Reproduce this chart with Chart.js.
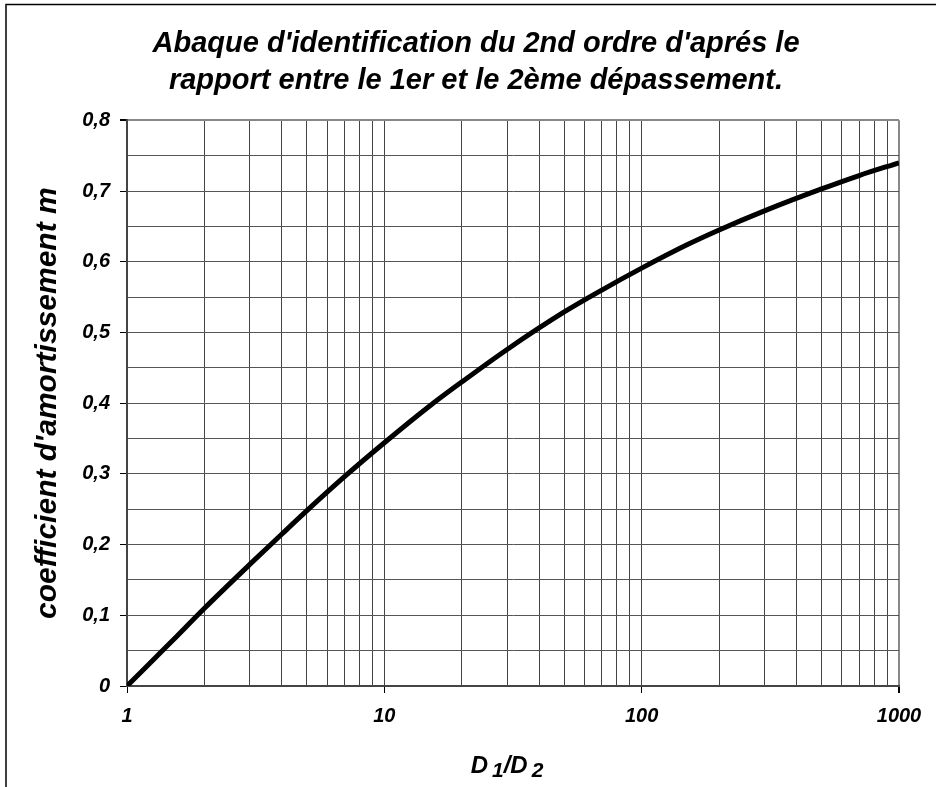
<!DOCTYPE html>
<html>
<head>
<meta charset="utf-8">
<script src="https://cdn.jsdelivr.net/npm/chart.js@4"></script>
<style>
  body { margin: 0; background: #fff; }
  #wrap { width: 936px; height: 787px; position: relative; }
</style>
</head>
<body>
<div id="wrap"><canvas id="abaque"></canvas></div>
<script>
const ratioD1D2 = [1, 1.5, 2, 3, 4, 5, 7, 10, 15, 20, 30, 50, 70, 100, 150, 200, 300, 500, 700, 1000];
const amortissement = [0, 0.064, 0.11, 0.172, 0.215, 0.248, 0.296, 0.344, 0.396, 0.43, 0.476, 0.529, 0.56, 0.591, 0.624, 0.645, 0.672, 0.703, 0.722, 0.74];

// graduations de la grille et libellés
const xGraduations = [1, 2, 3, 4, 5, 6, 7, 8, 9, 10, 20, 30, 40, 50, 60, 70, 80, 90, 100, 200, 300, 400, 500, 600, 700, 800, 900, 1000];
const xLabels = [1, 10, 100, 1000];
const yGraduations = [0, 0.05, 0.1, 0.15, 0.2, 0.25, 0.3, 0.35, 0.4, 0.45, 0.5, 0.55, 0.6, 0.65, 0.7, 0.75, 0.8];
const yLabels = [0, 0.1, 0.2, 0.3, 0.4, 0.5, 0.6, 0.7, 0.8];

const titre = ["Abaque d'identification du 2nd ordre d'aprés le", "rapport entre le 1er et le 2ème dépassement."];
const titreY = "coefficient d'amortissement m";

const police = "'Liberation Sans', Arial, sans-serif";

// cadre du graphique + titre de l'axe x avec indices
const decor = {
  id: 'decor',
  beforeDraw(chart) {
    const ctx = chart.ctx;
    ctx.save();
    ctx.strokeStyle = '#000';
    ctx.lineWidth = 1.5;
    ctx.beginPath();
    ctx.moveTo(6, 787);
    ctx.lineTo(6, 4.5);
    ctx.lineTo(936, 4.5);
    ctx.stroke();
    ctx.restore();
  },
  afterDraw(chart) {
    const ctx = chart.ctx;
    const gros = 'italic bold 24px ' + police;
    const petit = 'italic bold 21px ' + police;
    const morceaux = [['D', gros, 0], ['1', petit, 4], ['/D', gros, 0], ['2', petit, 4]];
    ctx.save();
    ctx.fillStyle = '#000';
    ctx.textBaseline = 'alphabetic';
    let total = 0;
    morceaux.forEach(m => { ctx.font = m[1]; total += ctx.measureText(m[0]).width + (m[1] === petit ? 4 : 0); });
    let x = 507 - total / 2;
    const y = 773;
    morceaux.forEach(m => {
      ctx.font = m[1];
      if (m[1] === petit) x += 4;
      ctx.fillText(m[0], x, y + m[2]);
      x += ctx.measureText(m[0]).width;
    });
    ctx.restore();
  }
};

new Chart(document.getElementById('abaque'), {
  type: 'line',
  data: {
    datasets: [{
      data: ratioD1D2.map((x, i) => ({ x: x, y: amortissement[i] })),
      borderColor: '#000',
      borderWidth: 5,
      pointRadius: 0,
      fill: false,
      cubicInterpolationMode: 'monotone'
    }]
  },
  options: {
    responsive: true,
    maintainAspectRatio: false,
    animation: false,
    layout: { padding: { left: 16, right: 0, top: 0, bottom: 0 } },
    plugins: {
      legend: { display: false },
      tooltip: { enabled: false },
      title: {
        display: true,
        text: titre,
        color: '#000',
        font: { family: police, size: 29, weight: 'bold', style: 'italic', lineHeight: 1.265 },
        padding: { top: 26, bottom: 21 }
      }
    },
    scales: {
      x: {
        type: 'logarithmic',
        min: 1,
        max: 1000,
        afterBuildTicks: s => { s.ticks = xGraduations.map(v => ({ value: v })); },
        afterFit: s => { s.height = 101; },
        ticks: {
          autoSkip: false,
          maxRotation: 0,
          padding: 11,
          color: '#000',
          font: { family: police, size: 20, weight: 'bold', style: 'italic' },
          callback: v => xLabels.includes(v) ? String(v) : ''
        },
        grid: {
          color: c => (c.tick && c.tick.value === 1000) ? '#888' : '#444',
          lineWidth: c => (c.tick && c.tick.value === 1000) ? 2 : 1,
          tickLength: 7,
          tickColor: c => (c.tick && xLabels.includes(c.tick.value)) ? '#000' : 'rgba(0,0,0,0)'
        },
        border: { color: '#444', width: 2 }
      },
      y: {
        min: 0,
        max: 0.8,
        afterBuildTicks: s => { s.ticks = yGraduations.map(v => ({ value: v })); },
        afterFit: s => { s.width = 111; },
        ticks: {
          autoSkip: false,
          padding: 10,
          color: '#000',
          font: { family: police, size: 20, weight: 'bold', style: 'italic' },
          callback: v => yLabels.includes(v) ? String(v).replace('.', ',') : ''
        },
        grid: {
          color: c => (c.tick && c.tick.value === 0.8) ? '#888' : '#555',
          lineWidth: c => (c.tick && c.tick.value === 0.8) ? 2 : 1,
          tickLength: 7,
          tickColor: c => (c.tick && yLabels.includes(c.tick.value)) ? '#000' : 'rgba(0,0,0,0)'
        },
        border: { color: '#444', width: 2 },
        title: {
          display: true,
          text: titreY,
          color: '#000',
          font: { family: police, size: 30, weight: 'bold', style: 'italic' },
          padding: { top: 14, bottom: 0 }
        }
      },
      droite: {
        position: 'right',
        display: true,
        grid: { display: false },
        ticks: { display: false },
        border: { display: false },
        afterFit: s => { s.width = 37; }
      }
    }
  },
  plugins: [decor]
});
</script>
</body>
</html>
